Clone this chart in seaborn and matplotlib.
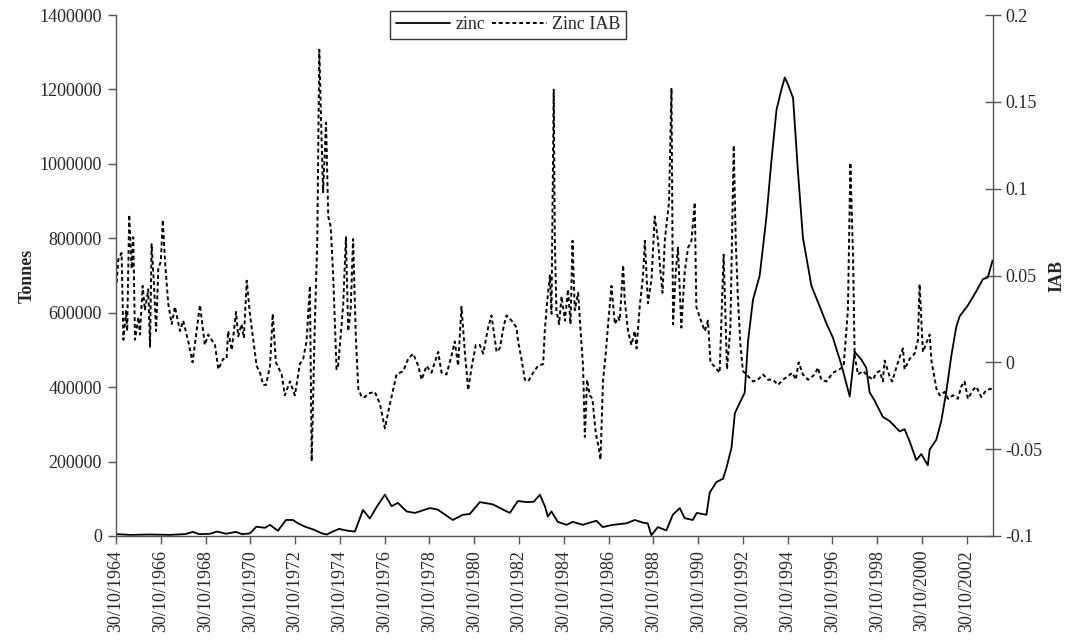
import matplotlib
matplotlib.use("Agg")
import matplotlib.pyplot as plt
import seaborn as sns
import pandas as pd
from matplotlib.ticker import FuncFormatter, FixedLocator
from matplotlib.lines import Line2D

# ---------------- data (decimal years) ----------------
zinc_years = [1964.83, 1965.46, 1966.35, 1967.24, 1967.91, 1968.27, 1968.54, 1969.03, 1969.34, 1969.74,
              1970.19, 1970.46, 1970.81, 1971.10, 1971.48, 1971.71, 1972.06, 1972.42, 1972.73, 1972.96,
              1973.27, 1973.62, 1974.03, 1974.25, 1974.47, 1974.79, 1975.19, 1975.50, 1975.86, 1976.17,
              1976.48, 1976.84, 1977.14, 1977.42, 1977.81, 1978.18, 1978.85, 1979.20, 1979.87, 1980.32,
              1980.63, 1981.08, 1981.66, 1982.11, 1982.42, 1982.78, 1983.18, 1983.49, 1983.76, 1983.98,
              1984.12, 1984.28, 1984.56, 1984.95, 1985.23, 1985.68, 1985.89, 1986.29, 1986.57, 1987.02,
              1987.63, 1988.00, 1988.36, 1988.58, 1988.74, 1989.03, 1989.41, 1989.70, 1990.01, 1990.23,
              1990.59, 1990.77, 1991.20, 1991.35, 1991.65, 1991.94, 1992.09, 1992.32, 1992.47, 1992.69,
              1992.91, 1993.06, 1993.28, 1993.58, 1993.88, 1994.10, 1994.33, 1994.55, 1994.70, 1994.84,
              1995.07, 1995.29, 1995.51, 1995.89, 1996.26, 1996.56, 1996.85, 1997.23, 1997.60, 1997.82,
              1998.12, 1998.34, 1998.49, 1998.71, 1999.08, 1999.38, 1999.83, 2000.05, 2000.28, 2000.57,
              2000.80, 2001.09, 2001.17, 2001.47, 2001.69, 2001.91, 2002.14, 2002.36, 2002.51, 2002.88,
              2003.18, 2003.55, 2003.77, 2003.98]
zinc_tonnes = [5000, 3000, 4000, 3000, 5000, 11000, 5000, 6000, 12000, 6000,
               11000, 5000, 7000, 25000, 22000, 30000, 14000, 43000, 43000, 34000,
               25000, 18000, 7000, 4000, 11000, 19000, 14000, 12000, 70000, 47000,
               79000, 111000, 80000, 89000, 66000, 62000, 75000, 71000, 43000, 57000,
               59000, 91000, 85000, 71000, 62000, 94000, 91000, 92000, 111000, 81000,
               52000, 66000, 38000, 30000, 38000, 30000, 34000, 41000, 24000, 30000,
               34000, 43000, 36000, 34000, 2000, 24000, 15000, 57000, 75000, 48000,
               43000, 62000, 57000, 117000, 145000, 154000, 182000, 237000, 330000, 358000,
               385000, 524000, 635000, 700000, 857000, 1006000, 1145000, 1200000, 1232000, 1214000,
               1177000, 978000, 802000, 672000, 617000, 571000, 533000, 460000, 375000, 495000,
               474000, 452000, 386000, 364000, 320000, 309000, 281000, 287000, 254000, 204000,
               220000, 190000, 232000, 259000, 309000, 386000, 485000, 562000, 590000, 620000,
               650000, 690000, 695000, 740000]

iab_years = [1964.86, 1964.93, 1965.08, 1965.16, 1965.28, 1965.33, 1965.42, 1965.53, 1965.60, 1965.68,
             1965.83, 1965.90, 1966.02, 1966.12, 1966.27, 1966.35, 1966.42, 1966.53, 1966.62, 1966.72,
             1966.83, 1966.92, 1967.02, 1967.16, 1967.32, 1967.46, 1967.69, 1967.83, 1968.06, 1968.25,
             1968.43, 1968.58, 1968.80, 1968.95, 1969.25, 1969.40, 1969.62, 1969.77, 1969.84, 1970.00,
             1970.19, 1970.29, 1970.44, 1970.54, 1970.67, 1970.81, 1970.96, 1971.11, 1971.26, 1971.41,
             1971.53, 1971.71, 1971.83, 1971.97, 1972.23, 1972.37, 1972.60, 1972.82, 1973.04, 1973.19,
             1973.34, 1973.49, 1973.57, 1973.71, 1973.82, 1973.91, 1974.01, 1974.08, 1974.21, 1974.31,
             1974.42, 1974.53, 1974.68, 1974.75, 1974.91, 1974.98, 1975.10, 1975.20, 1975.31, 1975.42,
             1975.54, 1975.65, 1975.80, 1975.95, 1976.09, 1976.39, 1976.62, 1976.84, 1977.03, 1977.36,
             1977.66, 1977.88, 1978.10, 1978.33, 1978.48, 1978.70, 1978.92, 1979.07, 1979.22, 1979.37,
             1979.59, 1979.82, 1979.96, 1980.11, 1980.26, 1980.41, 1980.56, 1980.71, 1980.90, 1981.08,
             1981.23, 1981.45, 1981.60, 1981.83, 1981.97, 1982.15, 1982.27, 1982.50, 1982.72, 1982.79,
             1982.94, 1983.09, 1983.24, 1983.46, 1983.68, 1983.91, 1983.98, 1984.08, 1984.21, 1984.28,
             1984.38, 1984.43, 1984.50, 1984.62, 1984.73, 1984.88, 1985.02, 1985.13, 1985.22, 1985.32,
             1985.47, 1985.58, 1985.69, 1985.77, 1985.87, 1985.99, 1986.11, 1986.26, 1986.36, 1986.47,
             1986.58, 1986.71, 1986.81, 1986.96, 1987.11, 1987.25, 1987.33, 1987.48, 1987.55, 1987.70,
             1987.85, 1988.00, 1988.08, 1988.22, 1988.37, 1988.45, 1988.59, 1988.75, 1988.89, 1989.04,
             1989.12, 1989.24, 1989.34, 1989.44, 1989.53, 1989.64, 1989.71, 1989.83, 1989.93, 1990.08,
             1990.23, 1990.38, 1990.53, 1990.68, 1990.75, 1990.90, 1991.13, 1991.27, 1991.38, 1991.53,
             1991.79, 1991.97, 1992.12, 1992.27, 1992.42, 1992.51, 1992.61, 1992.72, 1992.83, 1993.06,
             1993.28, 1993.50, 1993.73, 1993.95, 1994.17, 1994.40, 1994.62, 1994.84, 1995.04, 1995.19,
             1995.32, 1995.51, 1995.74, 1996.04, 1996.18, 1996.33, 1996.56, 1996.85, 1997.15, 1997.33,
             1997.52, 1997.63, 1997.75, 1997.82, 1997.97, 1998.19, 1998.42, 1998.64, 1998.79, 1998.94,
             1999.08, 1999.16, 1999.38, 1999.50, 1999.68, 1999.83, 1999.98, 2000.05, 2000.28, 2000.50,
             2000.65, 2000.72, 2000.87, 2001.02, 2001.17, 2001.25, 2001.47, 2001.62, 2001.84, 2001.99,
             2002.21, 2002.43, 2002.58, 2002.73, 2002.88, 2003.10, 2003.25, 2003.48, 2003.70, 2003.97]
iab_values = [0.046, 0.059, 0.063, 0.013, 0.030, 0.018, 0.085, 0.054, 0.072, 0.013,
              0.026, 0.016, 0.044, 0.030, 0.042, 0.009, 0.068, 0.044, 0.018, 0.054,
              0.058, 0.082, 0.058, 0.034, 0.022, 0.032, 0.018, 0.024, 0.012, 0.000,
              0.018, 0.033, 0.010, 0.016, 0.010, -0.004, 0.002, 0.002, 0.018, 0.007,
              0.029, 0.015, 0.022, 0.014, 0.047, 0.028, 0.013, -0.002, -0.006, -0.013,
              -0.013, -0.002, 0.028, 0.000, -0.007, -0.019, -0.011, -0.019, -0.001, 0.002,
              0.012, 0.044, -0.057, 0.022, 0.070, 0.180, 0.129, 0.098, 0.138, 0.084,
              0.078, 0.050, -0.004, -0.002, 0.022, 0.034, 0.072, 0.018, 0.030, 0.071,
              0.015, -0.015, -0.020, -0.020, -0.018, -0.017, -0.024, -0.038, -0.026, -0.007,
              -0.005, 0.002, 0.005, -0.002, -0.010, -0.002, -0.006, 0.000, 0.006, -0.006,
              -0.007, 0.004, 0.012, -0.002, 0.032, 0.006, -0.016, -0.003, 0.010, 0.010,
              0.005, 0.020, 0.027, 0.006, 0.008, 0.021, 0.027, 0.024, 0.020, 0.012,
              0.002, -0.010, -0.011, -0.006, -0.002, -0.001, 0.018, 0.034, 0.050, 0.028,
              0.157, 0.070, 0.030, 0.022, 0.038, 0.024, 0.042, 0.022, 0.070, 0.030,
              0.040, 0.018, -0.002, -0.043, -0.010, -0.019, -0.021, -0.041, -0.047, -0.056,
              -0.011, 0.006, 0.022, 0.044, 0.022, 0.026, 0.024, 0.056, 0.036, 0.018,
              0.010, 0.018, 0.008, 0.032, 0.050, 0.070, 0.034, 0.048, 0.084, 0.070,
              0.056, 0.040, 0.070, 0.082, 0.092, 0.158, 0.022, 0.052, 0.066, 0.020,
              0.052, 0.066, 0.070, 0.092, 0.032, 0.026, 0.018, 0.024, 0.000, -0.002,
              -0.006, 0.062, -0.004, 0.020, 0.125, 0.070, 0.036, 0.010, -0.005, -0.008,
              -0.011, -0.010, -0.007, -0.010, -0.010, -0.013, -0.010, -0.008, -0.006, -0.010,
              0.000, -0.007, -0.010, -0.007, -0.003, -0.010, -0.011, -0.006, -0.004, -0.002,
              0.030, 0.115, 0.060, 0.004, -0.007, -0.005, -0.008, -0.010, -0.006, -0.005,
              -0.011, 0.001, -0.008, -0.011, -0.003, 0.003, 0.008, -0.004, 0.002, 0.005,
              0.013, 0.045, 0.006, 0.011, 0.016, 0.001, -0.015, -0.019, -0.017, -0.021,
              -0.019, -0.021, -0.014, -0.011, -0.021, -0.016, -0.014, -0.020, -0.016, -0.015]

tick_labels = ["30/10/1964", "30/10/1966", "30/10/1968", "30/10/1970", "30/10/1972",
               "30/10/1974", "30/10/1976", "30/10/1978", "30/10/1980", "30/10/1982",
               "30/10/1984", "30/10/1986", "30/10/1988", "30/10/1990", "30/10/1992",
               "30/10/1994", "30/10/1996", "30/10/1998", "30/10/2000", "30/10/2002"]
left_ticks = [0, 200000, 400000, 600000, 800000, 1000000, 1200000, 1400000]
right_ticks = [-0.1, -0.05, 0, 0.05, 0.1, 0.15, 0.2]

series_names = ["zinc", "Zinc IAB"]

# ---------------- style ----------------
sns.set_theme(style="white")
plt.rcParams["font.family"] = ["Liberation Serif", "DejaVu Serif"]
FS = 13

zinc_df = pd.DataFrame({"year": zinc_years, "tonnes": zinc_tonnes})
iab_df = pd.DataFrame({"year": iab_years, "iab": iab_values})

fig = plt.figure(figsize=(10.73, 6.41), dpi=100)
ax = fig.add_axes([116 / 1073, 1 - 536 / 641, 877 / 1073, 521 / 641])
ax2 = ax.twinx()

dash = (0, (2.0, 1.5))
sns.lineplot(data=zinc_df, x="year", y="tonnes", ax=ax, color="black",
             linewidth=1.3, legend=False)
sns.lineplot(data=iab_df, x="year", y="iab", ax=ax2, color="black",
             linewidth=1.4, linestyle=dash, legend=False)

ax.set_zorder(2)
ax.patch.set_visible(False)

tick_pos = [int(t[-4:]) + 303 / 365 for t in tick_labels]
ax.set_xlim(tick_pos[0], 2004.0)
ax.set_ylim(left_ticks[0], left_ticks[-1])
ax2.set_ylim(right_ticks[0], right_ticks[-1])

ax.xaxis.set_major_locator(FixedLocator(tick_pos))
ax.set_xticklabels(tick_labels, rotation=90, fontsize=FS)
ax.yaxis.set_major_locator(FixedLocator(left_ticks))
ax.yaxis.set_major_formatter(FuncFormatter(lambda v, p: f"{int(round(v))}"))
ax2.yaxis.set_major_locator(FixedLocator(right_ticks))
ax2.yaxis.set_major_formatter(FuncFormatter(lambda v, p: f"{round(v, 2):g}"))

axis_col = "#555555"
for a in (ax, ax2):
    for s in a.spines.values():
        s.set_color(axis_col)
        s.set_linewidth(1.0)
    a.spines["top"].set_visible(False)
ax.spines["right"].set_visible(False)
ax2.spines["left"].set_visible(False)
ax2.spines["bottom"].set_visible(False)

ax.tick_params(axis="x", direction="out", length=6, width=1, color=axis_col,
               labelsize=FS, pad=4, bottom=True)
ax.tick_params(axis="y", direction="out", length=6, width=1, color=axis_col,
               labelsize=FS, pad=4, left=True)
ax2.tick_params(axis="y", direction="inout", length=12, width=1, color=axis_col,
                labelsize=FS, pad=3, right=True)

ax.set_xlabel("")
ax.set_ylabel("Tonnes", fontsize=FS, fontweight="bold", labelpad=3)
ax2.set_ylabel("IAB", fontsize=FS, fontweight="bold", labelpad=4)
ax.grid(False)
ax2.grid(False)

handles = [Line2D([], [], color="black", linewidth=1.3),
           Line2D([], [], color="black", linewidth=1.4, linestyle=dash)]
leg = ax.legend(handles, series_names, loc="upper center",
                bbox_to_anchor=(508 / 1073, 1 - 11 / 641), bbox_transform=fig.transFigure,
                ncol=2, frameon=True, fancybox=False, fontsize=FS,
                handlelength=3.0, handletextpad=0.3, columnspacing=0.4,
                borderpad=0.3, borderaxespad=0)
leg.get_frame().set_edgecolor("black")
leg.get_frame().set_linewidth(1.0)

fig.savefig("out.png", dpi=100)
